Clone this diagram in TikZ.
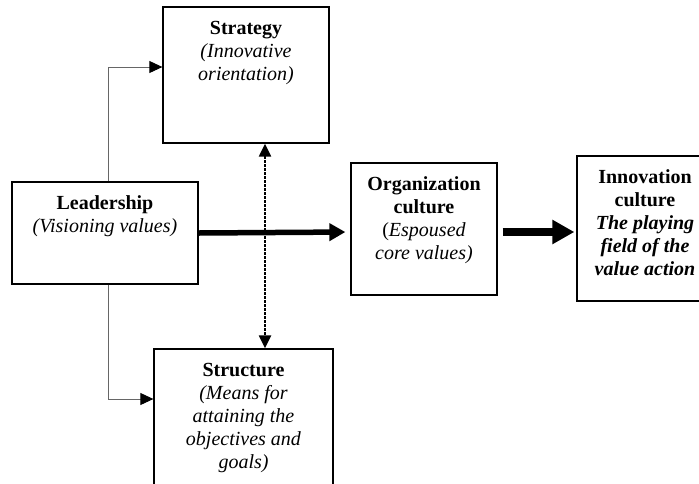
\documentclass[tikz,border=0pt]{standalone}
\usepackage{fontspec}
\setmainfont{Liberation Serif}
\usetikzlibrary{arrows.meta}

\tikzset{
    box/.style={draw, line width=1.3pt, inner sep=0pt},
    boxtext/.style={anchor=north, align=center, inner sep=0pt, yshift=-12pt,
        font=\fontsize{20}{23}\selectfont},
    thinlink/.style={draw=black!60, line width=0.9pt,
        -{Triangle[length=13pt,width=12pt,color=black]}},
    fatlink/.style={line width=5.5pt, shorten <=0.5pt, shorten >=5pt,
        -{Triangle[length=16pt,width=17pt]}},
    fatterlink/.style={line width=7.5pt, shorten <=5pt, shorten >=2pt,
        -{Triangle[length=22pt,width=23pt]}},
    dotlink/.style={line width=2.2pt, dash pattern=on 2.4pt off 1.6pt,
        {Triangle[length=13pt,width=12pt]}-{Triangle[length=13pt,width=12pt]}}
}

\begin{document}
\begin{tikzpicture}[x=1pt, y=-1pt]
    \clip (0,0) rectangle (699,483);

    % boxes
    \node (strategy) [box, minimum width=166pt, minimum height=136pt] at (246,75) {};
    \node (lead) [box, minimum width=186pt, minimum height=102pt] at (105,233) {};
    \node (org) [box, minimum width=146pt, minimum height=132pt] at (424,229) {};
    \node (innov) [box, minimum width=136pt, minimum height=145pt] at (645,228.5) {};
    \node (struct) [box, minimum width=179pt, minimum height=151pt] at (243.5,424.5) {};

    % texts
    \node (strategytext) [boxtext] at (strategy.north)
        {\strut\textbf{Strategy}\\\textit{(Innovative}\\\textit{orientation)}};
    \node (leadtext) [boxtext] at (lead.north)
        {\strut\textbf{Leadership}\\\textit{(Visioning values)}};
    \node (orgtext) [boxtext] at (org.north)
        {\strut\textbf{Organization}\\\textbf{culture}\\(\textit{Espoused}\\\textit{core values)}};
    \node (innovtext) [boxtext] at (innov.north)
        {\strut\textbf{Innovation}\\\textbf{culture}\\\textbf{\textit{The playing}}\\
         \textbf{\textit{field of the}}\\\textbf{\textit{value action}}};
    \node (structtext) [boxtext] at (struct.north)
        {\strut\textbf{Structure}\\\textit{(Means for}\\\textit{attaining the}\\
         \textit{objectives and}\\\textit{goals)}};

    % leadership feeds strategy and structure
    \draw[thinlink] ([xshift=3pt]lead.north) |- ([yshift=8pt]strategy.west);
    \draw[thinlink] ([xshift=3pt]lead.south) |- ([yshift=25.5pt]struct.west);

    % strategy <-> structure
    \draw[dotlink] ([xshift=19pt]strategy.south) -- ([xshift=19pt]strategy.south |- struct.north);

    % main flow
    \draw[fatlink] (lead.east) -- ([yshift=-3pt]org.west);
    \draw[fatterlink] ([yshift=-3pt]org.east) -- ([yshift=-3pt]org.east -| innov.west);
\end{tikzpicture}
\end{document}
